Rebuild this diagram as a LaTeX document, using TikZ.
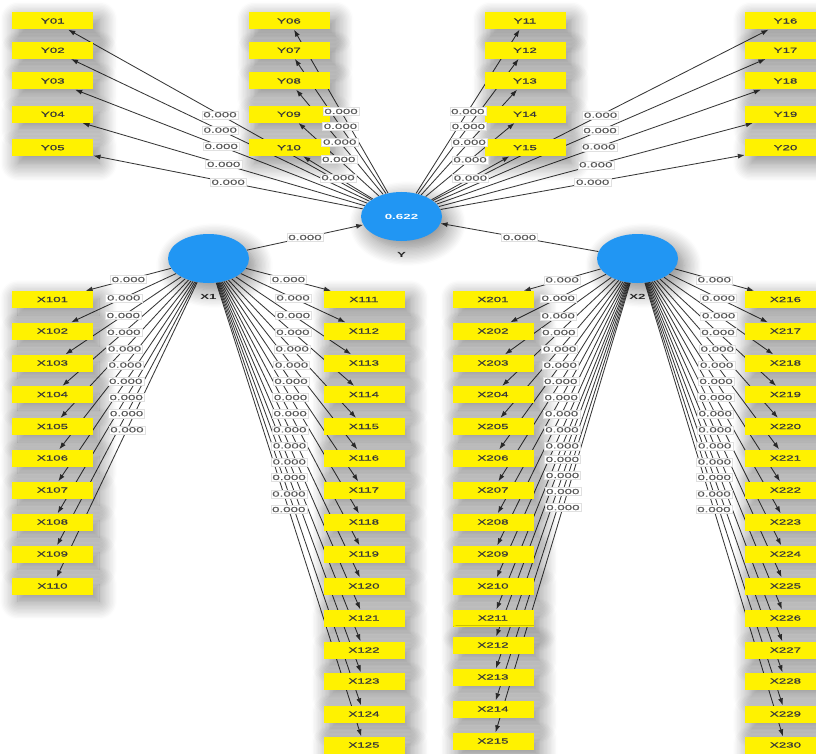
\documentclass[tikz,border=0pt]{standalone}
\usepackage{fontspec}
\setmainfont{Liberation Sans}
\newfontfamily\widefont[FakeStretch=1.8]{Liberation Sans}
\newfontfamily\widebold[FakeStretch=1.8,FakeBold=0.6]{Liberation Sans}
\usetikzlibrary{shapes.geometric,arrows.meta,shadows.blur}
\definecolor{lvblue}{RGB}{33,150,243}
\pgfdeclarelayer{edges}
\pgfsetlayers{edges,main}
\tikzset{
  softshadow/.style={blur shadow={shadow xshift=6pt, shadow yshift=-7pt,
      shadow blur radius=18pt, shadow blur steps=14, shadow opacity=50}},
  ind/.style={rectangle, fill=yellow, minimum width=81pt, minimum height=17pt,
      inner sep=0pt, font=\widebold\fontsize{7.4}{8}\selectfont, text=black!78,
      softshadow},
  lv/.style={ellipse, fill=lvblue, minimum width=81pt, minimum height=49pt,
      inner sep=0pt, font=\widefont\fontsize{7.4}{8}\selectfont\bfseries,
      text=white, softshadow},
  lvname/.style={font=\widefont\fontsize{7.4}{8}\selectfont\bfseries, text=black!85},
  load/.style={draw=black!78, line width=0.85pt, -{Latex[length=7pt,width=5pt]}},
  coef/.style={fill=white, draw=black!12, line width=0.3pt, inner sep=1.4pt,
      font=\widebold\fontsize{7.4}{8}\selectfont, text=black!65}
}
\begin{document}
\begin{tikzpicture}[x=1pt,y=-1pt]
\useasboundingbox (0,0) rectangle (816,754);

% latent variables
\node[lv] (Y)  at (401.5,216.5) {0.622};
\node[lv] (X1) at (208.5,258.5) {};
\node[lv] (X2) at (637.5,258.5) {};
\node[lvname] (Yname)  at (401.5,254.5) {Y};
\node[lvname] (X1name) at (208.5,297) {X1};
\node[lvname] (X2name) at (637.5,297) {X2};

% indicators of Y
\foreach \n/\r in {01/21,02/50.3,03/81,04/114.3,05/147.7}
  \node[ind] (Y\n) at (52.8,\r) {Y\n};
\foreach \n/\r in {06/21,07/50.3,08/81,09/114.3,10/147.7}
  \node[ind] (Y\n) at (289,\r) {Y\n};
\foreach \n/\r in {11/21,12/50.3,13/81,14/114.3,15/147.7}
  \node[ind] (Y\n) at (525,\r) {Y\n};
\foreach \n/\r in {16/21,17/50.3,18/81,19/114.3,20/147.7}
  \node[ind] (Y\n) at (785.5,\r) {Y\n};

% indicators of X1
\foreach \n/\r in {101/299.5,102/331,103/363,104/394.5,105/426.5,
                   106/458,107/490,108/522,109/554,110/586}
  \node[ind] (X\n) at (52.5,\r) {X\n};
\foreach \n/\r in {111/299.5,112/331,113/363,114/394.5,115/426.5,
                   116/458,117/490,118/522,119/554,120/586,
                   121/618,122/650,123/681,124/714,125/745}
  \node[ind] (X\n) at (364,\r) {X\n};

% indicators of X2
\foreach \n/\r in {201/299.5,202/331,203/363,204/394.5,205/426.5,
                   206/458,207/490,208/522,209/554,210/586,
                   211/618,212/645,213/677,214/709,215/741}
  \node[ind] (X\n) at (493,\r) {X\n};
\foreach \n/\r in {216/299.5,217/331,218/363,219/394.5,220/426.5,
                   221/458,222/490,223/522,224/554,225/586,
                   226/618,227/650,228/681,229/714,230/745}
  \node[ind] (X\n) at (785.5,\r) {X\n};

% connectors
\begin{pgfonlayer}{edges}
  \foreach \n in {01,02,03,04,05,06,07,08,09,10,11,12,13,14,15,16,17,18,19,20}
    \draw[load] (Y) -- (Y\n);
  \foreach \n in {101,...,125}
    \draw[load] (X1) -- (X\n);
  \foreach \n in {201,...,230}
    \draw[load] (X2) -- (X\n);
  \draw[load] (X1) -- (Y);
  \draw[load] (X2) -- (Y);
\end{pgfonlayer}

% coefficients
\foreach \n in {01,02,03,04,05,06,07,08,09,10,11,12,13,14,15,16,17,18,19,20}
  \path (Y) -- (Y\n) node[coef, midway] {0.000};
\foreach \n in {101,...,125}
  \path (X1) -- (X\n) node[coef, midway] {0.000};
\foreach \n in {201,...,230}
  \path (X2) -- (X\n) node[coef, midway] {0.000};
\path (X1) -- (Y) node[coef, midway] {0.000};
\path (X2) -- (Y) node[coef, midway] {0.000};
\end{tikzpicture}
\end{document}
